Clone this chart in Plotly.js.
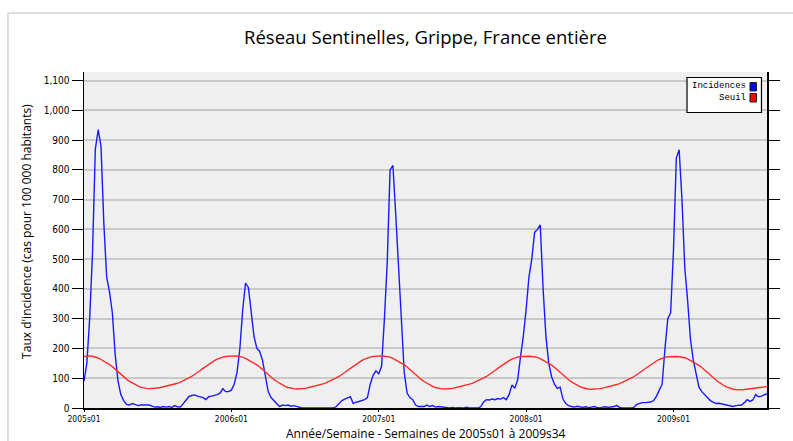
<!DOCTYPE html>
<html>
<head>
<meta charset="utf-8">
<script src="https://cdn.plot.ly/plotly-3.0.1.min.js"></script>
<style>
  html, body { margin: 0; padding: 0; background: #ffffff; }
  #chart { width: 793px; height: 441px; }
</style>
</head>
<body>
<div id="chart"></div>
<script>
"use strict";

// weekly incidence, one array per calendar year (2005s01 .. 2009s34)
var incidences2005 = [90, 150, 300, 520, 870, 935, 880, 620, 440, 390, 320, 180, 90, 45, 25, 12,
    10, 15, 12, 8, 10, 10, 8, 10, 6, 3, 4, 2, 5, 3, 5, 2, 8, 4, 3, 15, 28, 38, 42, 44, 40, 38,
    35, 28, 38, 40, 42, 45, 50, 65, 55, 55];
var incidences2006 = [60, 80, 120, 200, 330, 420, 405, 330, 240, 200, 190, 160, 100, 55, 35, 25,
    12, 5, 10, 8, 10, 6, 8, 5, 3, 0, 0, 0, 0, 1, 0, 0, 0, 0, 1, 0, 0, 5, 15, 25, 30, 35, 38, 15,
    20, 22, 25, 28, 35, 80, 110, 125];
var incidences2007 = [115, 140, 300, 490, 800, 815, 650, 460, 300, 120, 50, 35, 28, 10, 5, 4, 5,
    10, 5, 8, 3, 5, 4, 2, 0, 0, 2, 0, 1, 0, 0, 3, 0, 0, 1, 0, 5, 20, 28, 27, 30, 28, 32, 30, 35,
    28, 45, 77, 66, 94, 170, 240];
var incidences2008 = [330, 440, 500, 590, 600, 615, 400, 240, 150, 105, 80, 66, 70, 30, 15, 8, 5,
    3, 6, 3, 2, 4, 1, 3, 5, 2, 0, 3, 4, 2, 3, 5, 8, 2, 0, 1, 0, 0, 2, 12, 15, 18, 18, 20, 20, 25,
    40, 60, 80, 200, 300, 320];
var incidences2009 = [530, 840, 868, 700, 470, 360, 230, 160, 110, 70, 55, 45, 35, 25, 20, 15, 16,
    14, 12, 10, 8, 5, 8, 10, 10, 18, 28, 22, 27, 45, 38, 40, 44, 48];

// epidemic threshold, read the same way
var seuil2005 = [173, 175, 175, 174, 172, 168, 163, 158, 152, 146, 139, 130, 122, 113, 105, 97,
    90, 84, 78, 74, 70, 67, 66, 65, 65, 66, 67, 69, 71, 73, 75, 77, 80, 83, 87, 91, 96, 101, 106,
    112, 119, 126, 133, 140, 147, 153, 159, 164, 168, 171, 173, 174];
var seuil2006 = [175, 175, 174, 173, 171, 167, 162, 157, 151, 145, 138, 129, 121, 112, 104, 96,
    89, 83, 77, 73, 69, 66, 65, 64, 64, 65, 66, 68, 70, 72, 74, 77, 80, 83, 87, 91, 96, 101, 106,
    112, 119, 126, 133, 140, 147, 153, 159, 164, 168, 171, 173, 174];
var seuil2007 = [175, 175, 174, 173, 171, 167, 162, 157, 151, 145, 138, 129, 121, 112, 104, 96,
    89, 83, 77, 73, 69, 66, 65, 64, 64, 65, 66, 68, 70, 72, 74, 77, 80, 83, 87, 91, 96, 101, 106,
    112, 119, 126, 133, 140, 147, 153, 159, 164, 168, 171, 173, 174];
var seuil2008 = [174, 174, 173, 172, 170, 166, 161, 156, 150, 144, 137, 128, 120, 111, 103, 95,
    88, 82, 76, 72, 68, 65, 64, 63, 63, 64, 65, 67, 69, 71, 73, 76, 79, 82, 86, 90, 95, 100, 105,
    111, 118, 125, 132, 139, 146, 152, 158, 163, 167, 170, 172, 173];
var seuil2009 = [173, 173, 172, 171, 169, 165, 160, 155, 149, 143, 136, 127, 119, 110, 102, 94,
    87, 80, 74, 70, 66, 63, 62, 61, 61, 62, 63, 65, 66, 67, 68, 69, 70, 72];

var weekTickVals = [0, 52, 104, 156, 208];
var weekTickText = ['2005s01', '2006s01', '2007s01', '2008s01', '2009s01'];
var yTickVals = [0, 100, 200, 300, 400, 500, 600, 700, 800, 900, 1000, 1100];

var incidences = [].concat(incidences2005, incidences2006, incidences2007, incidences2008, incidences2009);
var seuil = [].concat(seuil2005, seuil2006, seuil2007, seuil2008, seuil2009);
var weeks = incidences.map(function (v, i) { return i; });

var incidenceTrace = {
    x: weeks,
    y: incidences,
    type: 'scatter',
    mode: 'lines',
    name: 'Incidences',
    line: { color: '#1a1aff', width: 1.4 },
    hoverinfo: 'skip'
};
var seuilTrace = {
    x: weeks,
    y: seuil,
    type: 'scatter',
    mode: 'lines',
    name: 'Seuil',
    line: { color: '#ff2a2a', width: 1.4 },
    hoverinfo: 'skip'
};

var tickFont = { family: '"Liberation Sans Narrow", "DejaVu Sans Condensed", sans-serif', size: 10, color: '#000000' };
var legendFont = { family: '"Liberation Mono", "DejaVu Sans Mono", monospace', size: 9, color: '#000000' };
var titleFamily = '"Open Sans", sans-serif';

var layout = {
    width: 793,
    height: 441,
    margin: { l: 84, r: 26, t: 72, b: 33 },
    paper_bgcolor: '#ffffff',
    plot_bgcolor: '#efefef',
    showlegend: false,
    title: {
        text: 'Réseau Sentinelles, Grippe, France entière',
        font: { family: titleFamily, size: 18.5, color: '#000000' },
        xref: 'paper', x: 0.5, xanchor: 'center',
        yref: 'container', y: 0.914, yanchor: 'middle'
    },
    xaxis: {
        range: [0, 241],
        tickvals: weekTickVals,
        ticktext: weekTickText,
        tickfont: { family: tickFont.family, size: 8.5, color: '#000000' },
        ticks: 'outside', ticklen: 2, tickcolor: '#000000',
        showgrid: false, zeroline: false,
        showline: true, linecolor: '#000000', linewidth: 1.5
    },
    yaxis: {
        range: [0, 1129],
        tickvals: yTickVals,
        tickformat: ',',
        tickfont: tickFont,
        ticks: 'outside', ticklen: 11, tickcolor: '#000000',
        showgrid: true, gridcolor: '#c9c9c9', gridwidth: 2,
        zeroline: false,
        showline: true, linecolor: '#000000', linewidth: 1.5,
        mirror: 'ticks'
    },
    shapes: [
        // outer frame
        { type: 'rect', xref: 'paper', yref: 'paper', x0: -0.1113, x1: 1.2, y0: -0.3, y1: 1.1756,
          line: { color: '#d4d4d4', width: 1.5 }, fillcolor: 'rgba(0,0,0,0)', layer: 'below' },
        // legend box
        { type: 'rect', xref: 'paper', yref: 'paper', x0: 0.8829, x1: 0.9919, y0: 0.8795, y1: 0.9836,
          line: { color: '#000000', width: 1.2 }, fillcolor: '#ffffff' },
        { type: 'rect', xref: 'paper', yref: 'paper', x0: 0.9751, x1: 0.9846, y0: 0.9435, y1: 0.9688,
          line: { color: '#202020', width: 1 }, fillcolor: '#0000ff' },
        { type: 'rect', xref: 'paper', yref: 'paper', x0: 0.9751, x1: 0.9846, y0: 0.9107, y1: 0.936,
          line: { color: '#202020', width: 1 }, fillcolor: '#ff0000' }
    ],
    annotations: [
        // axis titles placed by hand
        { xref: 'paper', yref: 'paper', x: 0.5, y: -0.105, xanchor: 'center', yanchor: 'bottom',
          borderpad: 0,
          text: 'Année/Semaine - Semaines de 2005s01 à 2009s34', showarrow: false,
          font: { family: titleFamily, size: 12, color: '#000000' } },
        { xref: 'paper', yref: 'paper', x: -0.0835, y: 0.527, xanchor: 'center', yanchor: 'middle',
          textangle: -90, text: 'Taux d\'incidence (cas pour 100 000 habitants)', showarrow: false,
          font: { family: titleFamily, size: 12, color: '#000000' } },
        // legend entries
        { xref: 'paper', yref: 'paper', x: 0.9729, y: 0.958, xanchor: 'right', yanchor: 'middle',
          text: 'Incidences', showarrow: false, font: legendFont },
        { xref: 'paper', yref: 'paper', x: 0.9729, y: 0.9226, xanchor: 'right', yanchor: 'middle',
          text: 'Seuil', showarrow: false, font: legendFont }
    ]
};

Plotly.newPlot('chart', [incidenceTrace, seuilTrace], layout, { staticPlot: true, displayModeBar: false });
</script>
</body>
</html>
